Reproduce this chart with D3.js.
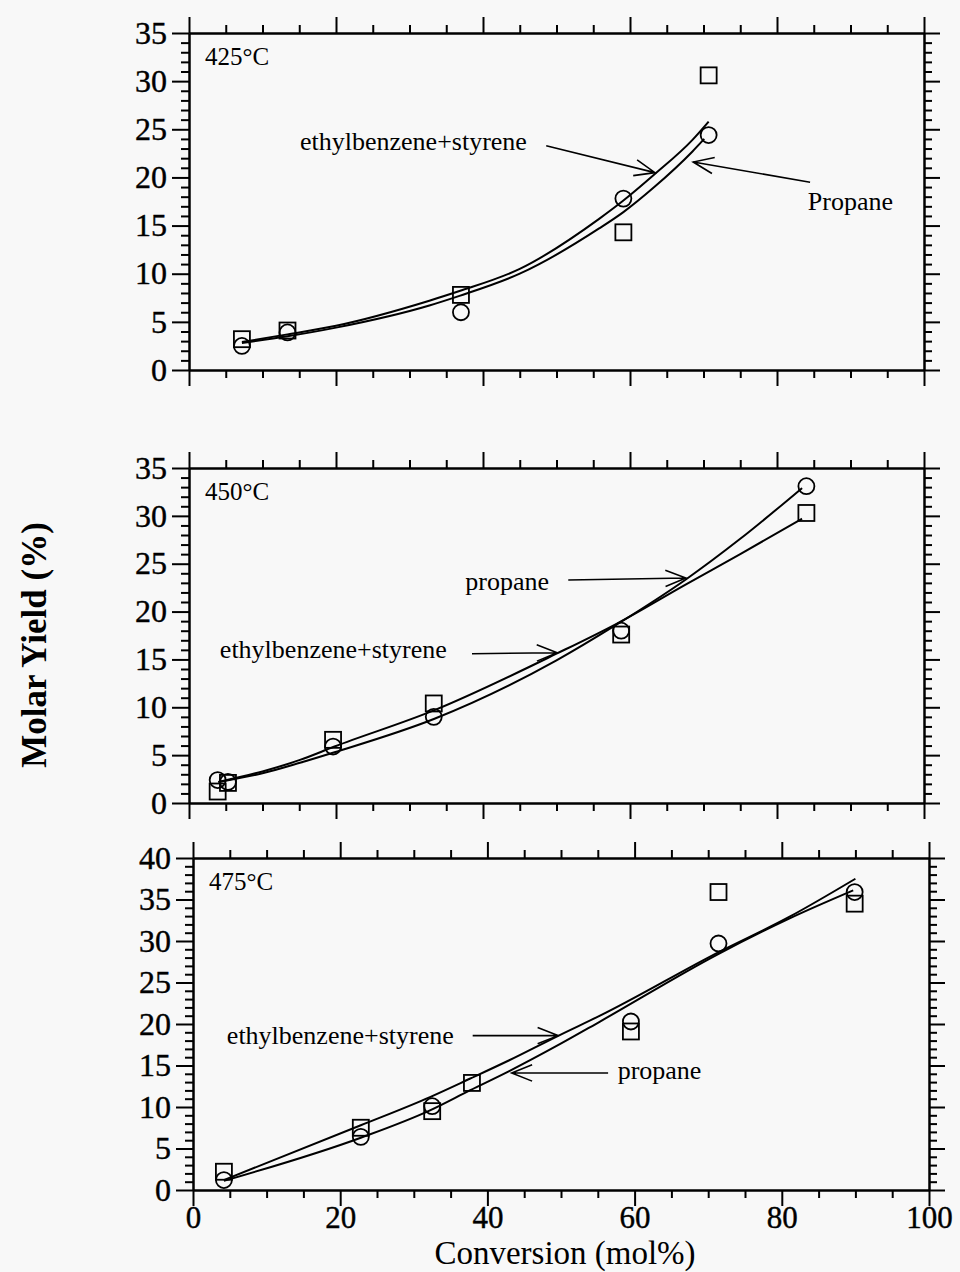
<!DOCTYPE html>
<html>
<head>
<meta charset="utf-8">
<script src="https://cdn.jsdelivr.net/npm/d3@7"></script>
<style>
body { margin: 0; background: #f8f8f8; }
svg { display: block; font-family: "Liberation Serif", "Times New Roman", serif; }
</style>
</head>
<body>
<svg width="960" height="1272"></svg>
<script>
// values: conversion (mol%) vs molar yield (%)
var conv425 = [7.2, 13.4, 37.0, 59.1, 70.7];
var sq425 = [3.2, 4.1, 7.8, 14.3, 30.6];
var ci425 = [2.5, 3.9, 6.0, 17.8, 24.4];

var conv450 = [3.9, 5.3, 19.6, 33.3, 58.8, 84.0];
var sq450 = [1.2, 2.1, 6.6, 10.4, 17.6, 30.3];
var ci450 = [2.4, 2.2, 5.9, 9.0, 18.0, 33.1];

var conv475 = [4.2, 22.8, 32.5, 37.9, 59.5, 71.4, 89.9];
var sq475 = [2.2, 7.5, 9.5, 12.9, 19.1, 35.9, 34.5];
var ci475 = [1.2, 6.4, 10.1, null, 20.3, 29.7, 35.9];

// fitted curves
var ebsX425 = [7.2, 13.4, 20, 32.7, 36.8, 45, 55.8, 59.1, 63.3, 68.5, 70.7];
var ebsY425 = [2.9, 3.7, 4.6, 7.2, 8.2, 10.5, 15.7, 17.6, 20.3, 23.9, 25.8];
var propX425 = [7.2, 13.4, 20, 32.7, 36.8, 45, 55.8, 59.1, 63.3, 68.5, 70.1];
var propY425 = [2.8, 3.5, 4.4, 6.7, 7.7, 10.0, 14.7, 16.4, 19.0, 22.7, 24.0];

var ebsX450 = [4.0, 10, 15.1, 19.8, 33.4, 50, 58.1, 67.5, 75, 83.4];
var ebsY450 = [2.2, 3.3, 4.5, 5.9, 9.7, 15.6, 18.7, 22.8, 26.0, 29.7];
var propX450 = [4.0, 10, 15.1, 19.8, 33.4, 50, 58.1, 67.5, 75, 83.4];
var propY450 = [2.2, 3.1, 4.2, 5.3, 8.8, 14.9, 18.6, 23.3, 27.6, 32.9];

var ebsX475 = [4.2, 22.8, 32.2, 37.6, 42.9, 49.9, 55.3, 71.3, 81, 90];
var ebsY475 = [1.2, 7.8, 11.2, 13.4, 15.6, 18.7, 21.0, 28.6, 32.9, 37.5];
var propX475 = [4.2, 22.8, 32.2, 37.6, 42.9, 49.9, 55.3, 71.3, 81, 89.7];
var propY475 = [1.1, 6.3, 9.6, 12.0, 14.3, 17.6, 20.3, 28.4, 32.7, 36.1];

var xMajor = [0, 20, 40, 60, 80, 100];

var panels = [
  { temp: "425°C", x0: 189, x1: 924, top: 33, bottom: 370, ymax: 35,
    conv: conv425, sq: sq425, ci: ci425,
    fits: [[ebsX425, ebsY425], [propX425, propY425]],
    notes: [
      { text: "ethylbenzene+styrene", at: [15.1, 22.8], from: [48.6, 23.3], to: [63.4, 20.5] },
      { text: "Propane", at: [84.2, 16.6], from: [84.5, 19.5], to: [68.6, 21.6] }
    ] },
  { temp: "450°C", x0: 189, x1: 924, top: 468, bottom: 803, ymax: 35,
    conv: conv450, sq: sq450, ci: ci450,
    fits: [[ebsX450, ebsY450], [propX450, propY450]],
    notes: [
      { text: "propane", at: [37.6, 22.3], from: [51.6, 23.3], to: [67.6, 23.5] },
      { text: "ethylbenzene+styrene", at: [4.2, 15.2], from: [38.5, 15.6], to: [50.1, 15.7] }
    ] },
  { temp: "475°C", x0: 193, x1: 929, top: 858, bottom: 1190, ymax: 40,
    conv: conv475, sq: sq475, ci: ci475,
    fits: [[ebsX475, ebsY475], [propX475, propY475]],
    notes: [
      { text: "ethylbenzene+styrene", at: [4.6, 17.6], from: [38.0, 18.6], to: [49.6, 18.6] },
      { text: "propane", at: [57.7, 13.4], from: [56.4, 14.1], to: [43.3, 14.1] }
    ] }
];

var svg = d3.select("svg");

panels.forEach(function(p, i) {
  var x = d3.scaleLinear().domain([0, 100]).range([p.x0, p.x1]);
  var y = d3.scaleLinear().domain([0, p.ymax]).range([p.bottom, p.top]);
  var last = i === panels.length - 1;

  var xMinor = d3.range(0, 101, 5).filter(function(v) { return v % 20; });
  var yMajor = d3.range(0, p.ymax + 1, 5);
  var yMinor = d3.range(0, p.ymax + 1, 1).filter(function(v) { return v % 5; });

  var g = svg.append("g").attr("class", "panel");

  function ax(gen, pos, vals, size, fmt, fs) {
    var a = gen.tickValues(vals).tickSize(size).tickSizeOuter(0);
    a.tickFormat(fmt || "");
    var s = g.append("g").attr("transform", pos).call(a)
      .attr("font-family", null).attr("font-size", fs || 32);
    s.select(".domain").attr("stroke-width", 2).attr("stroke", "#000");
    s.selectAll(".tick line").attr("stroke-width", 2).attr("stroke", "#000");
    s.selectAll(".tick text").attr("fill", "#000")
      .attr("stroke", "#000").attr("stroke-width", 0.4);
    return s;
  }

  ax(d3.axisTop(x), "translate(0," + p.top + ")", xMajor, 16);
  ax(d3.axisTop(x), "translate(0," + p.top + ")", xMinor, 8);
  ax(d3.axisBottom(x).tickPadding(0), "translate(0," + p.bottom + ")", xMajor, 16,
     last ? d3.format("d") : null, 31);
  ax(d3.axisBottom(x), "translate(0," + p.bottom + ")", xMinor, 8);
  ax(d3.axisLeft(y).tickPadding(5), "translate(" + p.x0 + ",0)", yMajor, 17, d3.format("d"));
  ax(d3.axisLeft(y), "translate(" + p.x0 + ",0)", yMinor, 8);
  ax(d3.axisRight(y), "translate(" + p.x1 + ",0)", yMajor, 16);
  ax(d3.axisRight(y), "translate(" + p.x1 + ",0)", yMinor, 8);

  g.append("text")
    .attr("x", p.x0 + 16).attr("y", p.top + 32)
    .attr("font-size", 25)
    .text(p.temp);

  // fitted curves
  var line = d3.line()
    .x(function(d) { return x(d[0]); })
    .y(function(d) { return y(d[1]); })
    .curve(d3.curveMonotoneX);
  p.fits.forEach(function(f) {
    var pts = f[0].map(function(v, k) { return [v, f[1][k]]; });
    g.append("path").datum(pts)
      .attr("d", line)
      .attr("fill", "none")
      .attr("stroke", "#000")
      .attr("stroke-width", 2);
  });

  // squares
  var sqPts = p.conv.map(function(v, k) { return [v, p.sq[k]]; }).filter(function(d) { return d[1] != null; });
  g.selectAll(".sq").data(sqPts).enter().append("rect")
    .attr("class", "sq")
    .attr("x", function(d) { return x(d[0]) - 8; })
    .attr("y", function(d) { return y(d[1]) - 8; })
    .attr("width", 16).attr("height", 16)
    .attr("fill", "none").attr("stroke", "#000").attr("stroke-width", 1.8);

  // circles
  var ciPts = p.conv.map(function(v, k) { return [v, p.ci[k]]; }).filter(function(d) { return d[1] != null; });
  g.selectAll(".ci").data(ciPts).enter().append("circle")
    .attr("class", "ci")
    .attr("cx", function(d) { return x(d[0]); })
    .attr("cy", function(d) { return y(d[1]); })
    .attr("r", 8)
    .attr("fill", "none").attr("stroke", "#000").attr("stroke-width", 1.8);

  // labels with arrows
  p.notes.forEach(function(n) {
    g.append("text")
      .attr("x", x(n.at[0])).attr("y", y(n.at[1]))
      .attr("font-size", 26)
      .text(n.text);
    var x1 = x(n.from[0]), y1 = y(n.from[1]), x2 = x(n.to[0]), y2 = y(n.to[1]);
    var ang = Math.atan2(y2 - y1, x2 - x1), L = 22, spread = 0.38;
    var h1 = [x2 - L * Math.cos(ang - spread), y2 - L * Math.sin(ang - spread)];
    var h2 = [x2 - L * Math.cos(ang + spread), y2 - L * Math.sin(ang + spread)];
    g.append("path")
      .attr("d", "M" + x1 + "," + y1 + "L" + x2 + "," + y2 +
                 "M" + h1[0] + "," + h1[1] + "L" + x2 + "," + y2 + "L" + h2[0] + "," + h2[1])
      .attr("fill", "none").attr("stroke", "#000").attr("stroke-width", 1.6);
  });
});

svg.append("text")
  .attr("x", 565).attr("y", 1264)
  .attr("text-anchor", "middle")
  .attr("font-size", 33)
  .text("Conversion (mol%)");

svg.append("text")
  .attr("transform", "translate(46,645) rotate(-90)")
  .attr("text-anchor", "middle")
  .attr("font-size", 35)
  .attr("font-weight", "bold")
  .text("Molar Yield (%)");
</script>
</body>
</html>
